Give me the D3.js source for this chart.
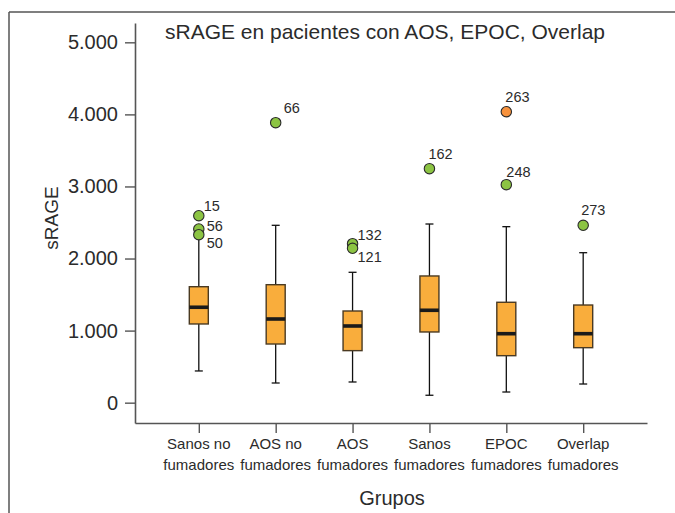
<!DOCTYPE html>
<html>
<head>
<meta charset="utf-8">
<script src="https://cdn.jsdelivr.net/npm/d3@7"></script>
<style>
  html, body { margin: 0; padding: 0; background: #fff; }
  svg { display: block; font-family: "Liberation Sans", Arial, Helvetica, sans-serif; }
</style>
</head>
<body>
<svg id="chart" width="675" height="513"></svg>
<script>
// Groups on the x axis (two-line labels)
const groups = [
  ["Sanos no", "fumadores"],
  ["AOS no", "fumadores"],
  ["AOS", "fumadores"],
  ["Sanos", "fumadores"],
  ["EPOC", "fumadores"],
  ["Overlap", "fumadores"]
];

// Box-plot statistics per group
const whiskerLow  = [440, 273, 287, 103, 148, 259];
const q1          = [1092, 814, 722, 981, 652, 763];
const median      = [1324, 1161, 1064, 1282, 957, 957];
const q3          = [1609, 1637, 1272, 1758, 1393, 1355];
const whiskerHigh = [2290, 2461, 1809, 2479, 2442, 2081];

// Outlying cases: group index, case id, value, kind ("out" = outlier, "ext" = extreme)
const outlierGroup = [0, 0, 0, 1, 2, 2, 3, 4, 4, 5];
const outlierId    = ["15", "56", "50", "66", "132", "121", "162", "263", "248", "273"];
const outlierValue = [2594, 2410, 2331, 3885, 2206, 2142, 3247, 4037, 3025, 2461];
const outlierKind  = ["out", "out", "out", "out", "out", "out", "out", "ext", "out", "out"];

const yTicks = [0, 1000, 2000, 3000, 4000, 5000];

// Label placement relative to each marker (dx, dy of the text centre line)
const labelNudge = {
  "15": [5, -10], "56": [8, -3], "50": [8, 8], "66": [8, -15],
  "132": [5, -9], "121": [5, 9], "162": [-1, -15], "263": [-1, -15],
  "248": [0, -13], "273": [-2, -15]
};

const svg = d3.select("#chart");
const ink = "#2b2b2b";
const axisColor = "#555";

// Outer frame: top rule and left rule
svg.append("line").attr("x1", 9).attr("x2", 675).attr("y1", 12).attr("y2", 12)
  .attr("stroke", "#555").attr("stroke-width", 1.5);
svg.append("line").attr("x1", 9).attr("x2", 9).attr("y1", 12).attr("y2", 513)
  .attr("stroke", "#555").attr("stroke-width", 1.5);

const plot = { left: 135, right: 647, top: 23, bottom: 423 };

const y = d3.scaleLinear().domain([-282, 5268]).range([plot.bottom, plot.top]);
const x = d3.scalePoint().domain(d3.range(groups.length))
  .range([plot.left, plot.right]).padding(0.83);

const locale = d3.formatLocale({ decimal: ",", thousands: ".", grouping: [3], currency: ["", "€"] });
const fmt = locale.format(",d");

// Y axis
const yAxis = svg.append("g").attr("transform", `translate(${plot.left},0)`)
  .call(d3.axisLeft(y).tickValues(yTicks).tickFormat(fmt).tickSize(10).tickPadding(7).tickSizeOuter(0));
yAxis.select(".domain").attr("stroke", axisColor).attr("stroke-width", 1.6);
yAxis.selectAll(".tick line").attr("stroke", axisColor).attr("stroke-width", 1.4);
yAxis.selectAll(".tick text").attr("fill", ink).style("font-size", "20px")
  .style("font-family", "'Liberation Sans', Arial, sans-serif");

// X axis
const xAxis = svg.append("g").attr("transform", `translate(0,${plot.bottom})`)
  .call(d3.axisBottom(x).tickSize(10).tickSizeOuter(0).tickFormat(() => ""));
xAxis.select(".domain").attr("stroke", axisColor).attr("stroke-width", 1.6);
xAxis.selectAll(".tick line").attr("stroke", axisColor).attr("stroke-width", 1.4);
xAxis.selectAll(".tick text").remove();

const xLabels = svg.append("g");
groups.forEach((g, i) => {
  const t = xLabels.append("text")
    .attr("x", x(i)).attr("y", 449)
    .attr("text-anchor", "middle").attr("fill", ink)
    .style("font-size", "15px");
  t.append("tspan").attr("x", x(i)).attr("dy", 0).text(g[0]);
  t.append("tspan").attr("x", x(i)).attr("dy", 21).text(g[1]);
});

// Boxes
const boxW = 19, capW = 8;
const boxes = svg.append("g");
groups.forEach((g, i) => {
  const cx = x(i);
  const gBox = boxes.append("g");
  gBox.append("line").attr("x1", cx).attr("x2", cx)
    .attr("y1", y(whiskerHigh[i])).attr("y2", y(q3[i]))
    .attr("stroke", "#111").attr("stroke-width", 1.3);
  gBox.append("line").attr("x1", cx).attr("x2", cx)
    .attr("y1", y(q1[i])).attr("y2", y(whiskerLow[i]))
    .attr("stroke", "#111").attr("stroke-width", 1.3);
  [whiskerHigh[i], whiskerLow[i]].forEach(v => {
    gBox.append("line").attr("x1", cx - capW / 2).attr("x2", cx + capW / 2)
      .attr("y1", y(v)).attr("y2", y(v))
      .attr("stroke", "#111").attr("stroke-width", 1.3);
  });
  gBox.append("rect")
    .attr("x", cx - boxW / 2).attr("width", boxW)
    .attr("y", y(q3[i])).attr("height", y(q1[i]) - y(q3[i]))
    .attr("fill", "#f9ad3c").attr("stroke", "#4a3a22").attr("stroke-width", 1.4);
  gBox.append("line").attr("x1", cx - boxW / 2).attr("x2", cx + boxW / 2)
    .attr("y1", y(median[i])).attr("y2", y(median[i]))
    .attr("stroke", "#1a1a1a").attr("stroke-width", 3.6);
});

// Outliers and their case labels
const pts = svg.append("g");
outlierId.forEach((id, k) => {
  const cx = x(outlierGroup[k]);
  const cy = y(outlierValue[k]);
  pts.append("circle").attr("cx", cx).attr("cy", cy).attr("r", 5.2)
    .attr("fill", outlierKind[k] === "ext" ? "#f7923d" : "#8cc443")
    .attr("stroke", "#2a2a2a").attr("stroke-width", 1.1);
});
outlierId.forEach((id, k) => {
  const cx = x(outlierGroup[k]);
  const cy = y(outlierValue[k]);
  const [dx, dy] = labelNudge[id];
  pts.append("text").attr("x", cx + dx).attr("y", cy + dy)
    .attr("dy", "0.35em").attr("fill", ink)
    .style("font-size", "14.5px").text(id);
});

// Title and axis titles
svg.append("text").attr("x", 385).attr("y", 32).attr("dy", "0.35em")
  .attr("text-anchor", "middle").attr("fill", ink)
  .style("font-size", "21px").text("sRAGE en pacientes con AOS, EPOC, Overlap");

svg.append("text").attr("transform", "translate(51,218) rotate(-90)")
  .attr("dy", "0.35em").attr("text-anchor", "middle").attr("fill", ink)
  .style("font-size", "19px").text("sRAGE");

svg.append("text").attr("x", 392).attr("y", 498).attr("dy", "0.35em")
  .attr("text-anchor", "middle").attr("fill", ink)
  .style("font-size", "20px").text("Grupos");
</script>
</body>
</html>
